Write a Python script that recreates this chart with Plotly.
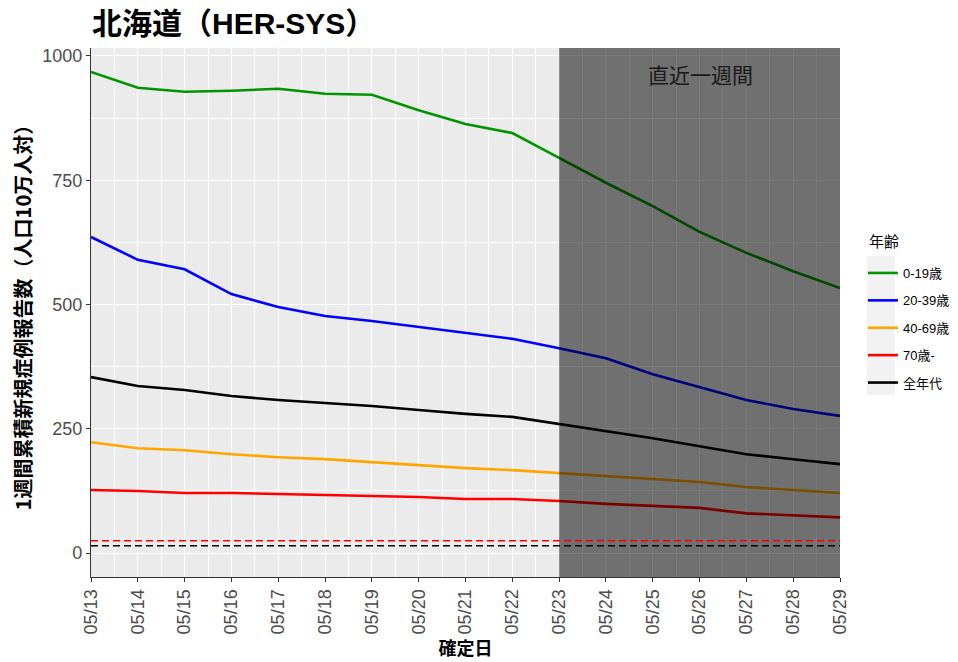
import plotly.graph_objects as go

dates = ["2022-05-13", "2022-05-14", "2022-05-15", "2022-05-16", "2022-05-17", "2022-05-18",
         "2022-05-19", "2022-05-20", "2022-05-21", "2022-05-22", "2022-05-23", "2022-05-24",
         "2022-05-25", "2022-05-26", "2022-05-27", "2022-05-28", "2022-05-29"]

age_0_19 = [968, 936, 928, 930, 934, 924, 922, 891, 863, 845, 795, 745, 698, 646, 604, 567, 533]
age_20_39 = [636, 590, 571, 521, 495, 477, 467, 455, 443, 431, 412, 392, 360, 334, 308, 290, 276]
age_40_69 = [223, 211, 207, 199, 193, 189, 183, 177, 171, 167, 161, 155, 149, 143, 133, 127, 121]
age_70 = [127, 125, 121, 121, 119, 117, 115, 113, 109, 109, 105, 99, 95, 91, 80, 76, 72]
age_all = [354, 336, 328, 316, 308, 302, 296, 288, 280, 274, 260, 245, 231, 215, 199, 189, 179]

series_names = ["0-19歳", "20-39歳", "40-69歳", "70歳-", "全年代"]
series_values = [age_0_19, age_20_39, age_40_69, age_70, age_all]
series_colors = ["#009400", "#0000FF", "#FFA500", "#FF0000", "#000000"]

ref_red = 25
ref_black = 15
recent_start = "2022-05-23"
recent_end = "2022-05-29"

y_ticks = [0, 250, 500, 750, 1000]

FONT = "Liberation Sans, Arial, Noto Sans CJK JP, sans-serif"
CJK = "Noto Sans CJK JP, Liberation Sans, sans-serif"

# plot area in figure pixels (page has 8px body margin)
FIG_W, FIG_H = 966, 662
L, T, W, H = 81, 40, 751, 529

fig = go.Figure()
for i, (name, vals, col) in enumerate(zip(series_names, series_values, series_colors)):
    fig.add_trace(go.Scatter(
        x=dates, y=vals, mode="lines", name=name,
        line=dict(color=col, width=2.6),
        legendgroup=f"g{i}",
    ))

# shaded recent week (drawn over lines, semi-transparent)
fig.add_shape(type="rect", xref="x", yref="y domain", x0=recent_start, x1=recent_end,
              y0=0, y1=1, fillcolor="rgba(0,0,0,0.52)", line=dict(width=0), layer="above")
# reference dashed lines
fig.add_shape(type="line", xref="x domain", yref="y", x0=0, x1=1, y0=ref_red, y1=ref_red,
              line=dict(color="#FF0000", width=1.6, dash="7px,4px"), layer="above")
fig.add_shape(type="line", xref="x domain", yref="y", x0=0, x1=1, y0=ref_black, y1=ref_black,
              line=dict(color="#000000", width=1.6, dash="7px,4px"), layer="above")


def px_x(px):
    return (px - 8 - L) / W


def px_y(py):
    return 1 - (py - 8 - T) / H


# legend key background
fig.add_shape(type="rect", xref="paper", yref="paper", x0=px_x(867), x1=px_x(895),
              y0=px_y(395), y1=px_y(256),
              fillcolor="#F2F2F2", line=dict(width=0), layer="below")

fig.add_annotation(text="直近一週間", xref="paper", yref="paper",
                   x=px_x(700), y=px_y(74), showarrow=False,
                   font=dict(size=21, color="#1A1A1A", family=CJK),
                   xanchor="center", yanchor="middle")

fig.add_annotation(text="年齢", xref="paper", yref="paper",
                   x=px_x(867), y=px_y(240), showarrow=False,
                   font=dict(size=15, color="#000000", family=CJK),
                   xanchor="left", yanchor="middle")

fig.update_layout(
    width=FIG_W, height=FIG_H,
    margin=dict(l=L, r=FIG_W - L - W, t=T, b=FIG_H - T - H),
    paper_bgcolor="white",
    plot_bgcolor="#EBEBEB",
    font=dict(family=FONT, color="#000000"),
    title=dict(text="<b>北海道（HER-SYS）</b>", x=84 / FIG_W, xanchor="left",
               y=1 - 15 / FIG_H, yanchor="middle",
               font=dict(size=30, color="#000000", family=FONT)),
    showlegend=True,
    legend=dict(
        font=dict(size=13, family=FONT),
        x=px_x(863), xanchor="left", y=px_y(258), yanchor="top",
        traceorder="grouped", tracegroupgap=7.5,
        bgcolor="rgba(0,0,0,0)",
    ),
    xaxis=dict(
        type="date",
        range=[dates[0], dates[-1]],
        tickvals=dates,
        tickformat="%m/%d",
        tickangle=-90,
        tickfont=dict(size=18, color="#4D4D4D"),
        showgrid=True, gridcolor="white", gridwidth=1.2,
        minor=dict(dtick=43200000, showgrid=True, gridcolor="white", gridwidth=0.5),
        ticks="outside", ticklen=4, tickcolor="#333333", tickwidth=1.1,
        showline=True, linecolor="#333333", linewidth=1.3,
        zeroline=False,
        title=dict(text="<b>確定日</b>", font=dict(size=18, family=CJK), standoff=6),
    ),
    yaxis=dict(
        range=[-48, 1016],
        tickvals=y_ticks,
        tickfont=dict(size=18, color="#4D4D4D"),
        showgrid=True, gridcolor="white", gridwidth=1.2,
        minor=dict(dtick=125, tick0=0, showgrid=True, gridcolor="white", gridwidth=0.5),
        ticks="outside", ticklen=4, tickcolor="#333333", tickwidth=1.1,
        showline=True, linecolor="#333333", linewidth=1.3,
        zeroline=False,
        title=dict(text="<b>1週間累積新規症例報告数（人口10万人対）</b>",
                   font=dict(size=20, family=CJK), standoff=8),
    ),
)

fig.write_html("out.html")
